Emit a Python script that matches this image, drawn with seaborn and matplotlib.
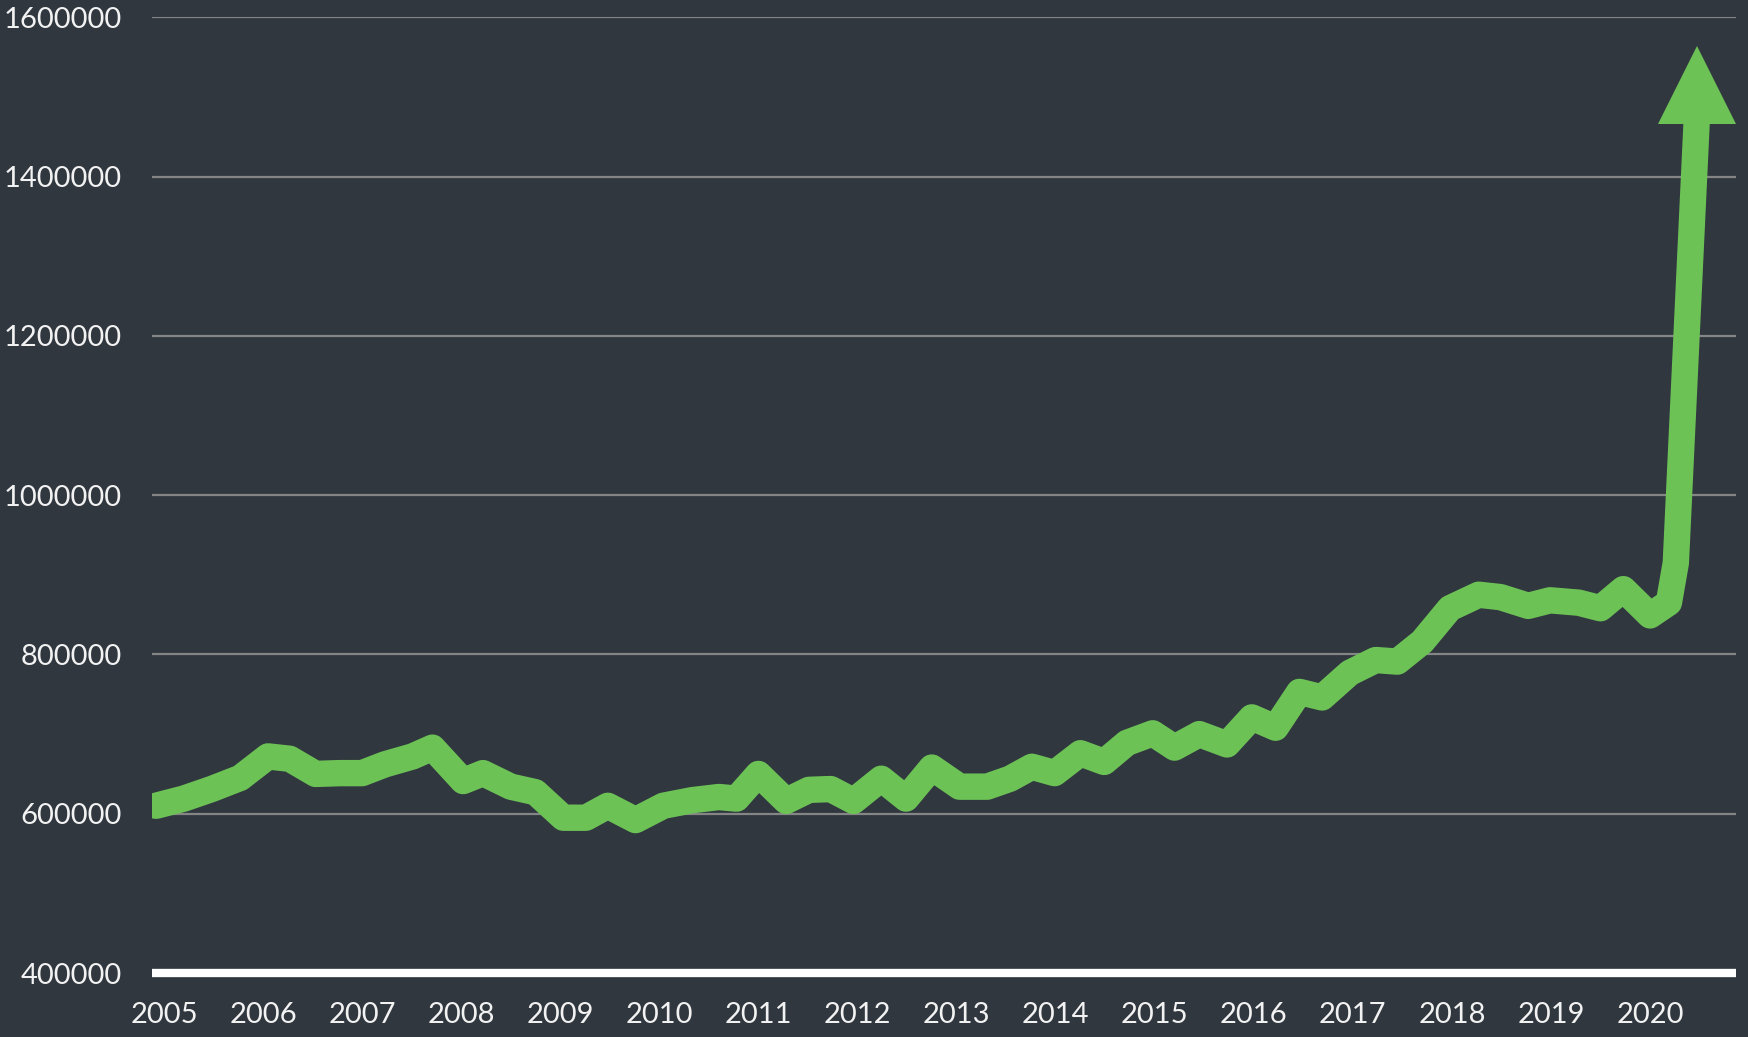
import numpy as np
import pandas as pd
import matplotlib
matplotlib.use('Agg')
import matplotlib.pyplot as plt
import matplotlib.transforms as mtransforms
import seaborn as sns

# values
years = [2004.92, 2005.2, 2005.48, 2005.77, 2006.05, 2006.27, 2006.53, 2006.78,
         2007.0, 2007.23, 2007.51, 2007.71, 2008.02, 2008.22, 2008.5, 2008.75,
         2009.03, 2009.26, 2009.48, 2009.76, 2010.04, 2010.33, 2010.6, 2010.78,
         2011.0, 2011.28, 2011.51, 2011.73, 2011.96, 2012.24, 2012.49, 2012.75,
         2013.03, 2013.31, 2013.54, 2013.76, 2013.99, 2014.25, 2014.49, 2014.72,
         2014.98, 2015.2, 2015.45, 2015.73, 2015.98, 2016.22, 2016.46, 2016.69,
         2016.97, 2017.23, 2017.45, 2017.7, 2017.98, 2018.27, 2018.49, 2018.77,
         2018.99, 2019.28, 2019.5, 2019.73, 2020.0, 2020.19, 2020.26, 2020.47]
prices = [610000, 619000, 631000, 645000, 672000, 669000, 650000, 651000,
          651000, 662000, 672000, 683000, 641000, 651000, 634000, 627000,
          595000, 595000, 610000, 592000, 610000, 617000, 621000, 619000,
          650000, 616000, 630000, 631000, 616000, 644000, 619000, 658000,
          634000, 634000, 644000, 659000, 651000, 676000, 665000, 689000,
          701000, 683000, 700000, 687000, 721000, 708000, 753000, 746000,
          777000, 793000, 791000, 816000, 858000, 875000, 872000, 861000,
          868000, 865000, 858000, 882000, 849000, 865000, 915000, 1468000]

year_ticks = list(range(2005, 2021))
value_ticks = [400000, 600000, 800000, 1000000, 1200000, 1400000, 1600000]

bg = '#30373f'
green = '#6dc256'

sns.set_style('dark', {'axes.facecolor': bg, 'figure.facecolor': bg})
plt.rcParams['font.family'] = ['Lato', 'DejaVu Sans']

df = pd.DataFrame({'year': years, 'price': prices})

fig = plt.figure(figsize=(17.49, 10.37), dpi=100)
ax = fig.add_axes([0.0869, 0.0617, 0.9057, 0.9216])

ax.set_ylim(400000, 1600000)
ax.set_xlim(2004.879, 2020.868)
ax.set_yticks(value_ticks)
ax.set_xticks(year_ticks)
ax.set_yticklabels([str(v) for v in value_ticks])
ax.set_xticklabels([str(y) for y in year_ticks])
ax.tick_params(axis='both', length=0, labelsize=21, labelcolor='#f2f2f2')
ax.tick_params(axis='y', pad=22)
ax.tick_params(axis='x', pad=21)

for v in value_ticks[1:]:
    ax.axhline(v, color='#858585', linewidth=1.6, zorder=1)

for s in ['top', 'right', 'left']:
    ax.spines[s].set_visible(False)
ax.spines['bottom'].set_color('white')
ax.spines['bottom'].set_linewidth(6)
ax.spines['bottom'].set_capstyle('butt')
ax.grid(False)

sns.lineplot(data=df, x='year', y='price', sort=False, ax=ax, color=green,
             linewidth=19, solid_capstyle='round', solid_joinstyle='round',
             zorder=3, legend=False)

# arrow head on the last point
offset = mtransforms.ScaledTranslation(0, 0.37, fig.dpi_scale_trans)
ax.plot([years[-1]], [prices[-1]], marker='^', markersize=56, color=green,
        markeredgewidth=0, transform=ax.transData + offset, zorder=4,
        clip_on=False)

ax.set_xlabel('')
ax.set_ylabel('')

fig.savefig('out.png', dpi=100, facecolor=bg)
